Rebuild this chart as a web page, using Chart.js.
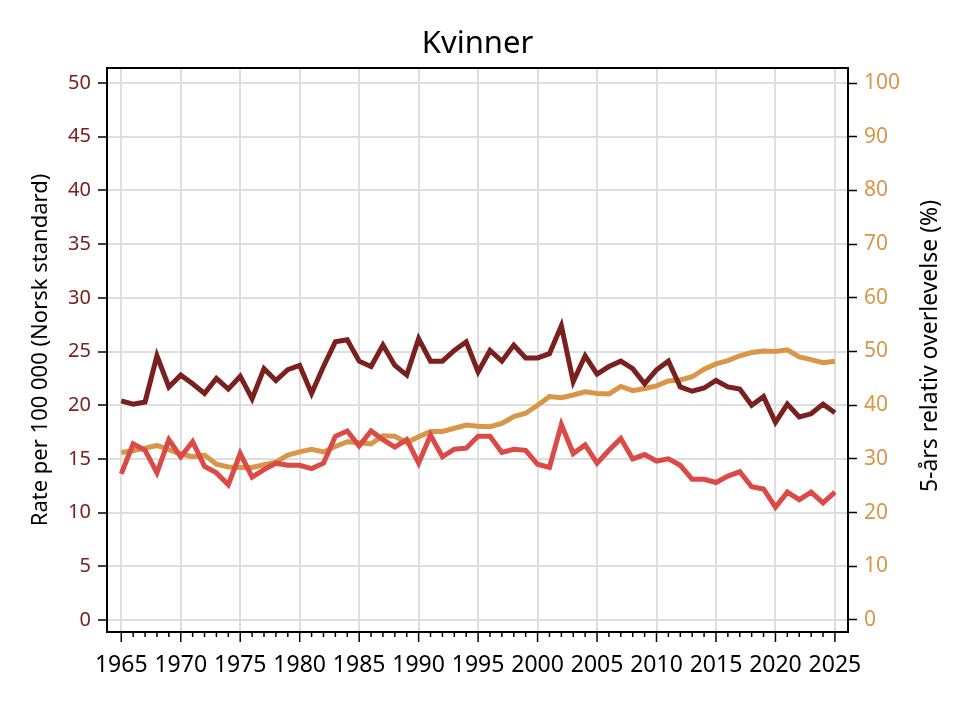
<!DOCTYPE html>
<html>
<head>
<meta charset="utf-8">
<script src="https://cdn.jsdelivr.net/npm/chart.js@4"></script>
<style>
  body { margin: 0; background: #fff; }
  #wrap { width: 970px; height: 706px; }
</style>
</head>
<body>
<div id="wrap"><canvas id="myChart" width="970" height="706"></canvas></div>
<script>
// år
const years = [1965,1966,1967,1968,1969,1970,1971,1972,1973,1974,
  1975,1976,1977,1978,1979,1980,1981,1982,1983,1984,
  1985,1986,1987,1988,1989,1990,1991,1992,1993,1994,
  1995,1996,1997,1998,1999,2000,2001,2002,2003,2004,
  2005,2006,2007,2008,2009,2010,2011,2012,2013,2014,
  2015,2016,2017,2018,2019,2020,2021,2022,2023,2024,2025]

// rate per 100 000 (venstre akse)
const insidens = [20.4,20.1,20.3,24.6,21.7,22.8,22.0,21.1,22.5,21.5,
  22.7,20.6,23.4,22.3,23.3,23.7,21.1,23.6,25.9,26.1,
  24.1,23.6,25.6,23.7,22.8,26.2,24.1,24.1,25.1,25.9,
  23.1,25.1,24.1,25.6,24.4,24.4,24.8,27.4,22.2,24.6,
  22.9,23.6,24.1,23.4,22.0,23.3,24.1,21.7,21.3,21.6,
  22.3,21.7,21.5,20.0,20.8,18.4,20.1,18.9,19.2,20.1,19.3]

const dodelighet = [13.6,16.4,15.8,13.7,16.8,15.2,16.6,14.3,13.7,12.6,
  15.5,13.3,14.0,14.6,14.4,14.4,14.1,14.6,17.1,17.6,
  16.2,17.6,16.8,16.1,16.8,14.6,17.2,15.2,15.9,16.0,
  17.1,17.1,15.6,15.9,15.8,14.5,14.2,18.2,15.5,16.3,
  14.6,15.8,16.9,15.0,15.4,14.8,15.0,14.4,13.1,13.1,
  12.8,13.4,13.8,12.4,12.2,10.5,11.9,11.2,11.9,10.9,11.9]

// 5-års relativ overlevelse (høyre akse)
const overlevelse = [31.2,31.5,32.0,32.5,31.7,30.9,30.4,30.7,29.0,28.5,
  28.4,28.4,28.9,29.4,30.7,31.3,31.8,31.3,32.3,33.2,
  33.0,32.8,34.3,34.2,33.0,34.1,35.1,35.1,35.7,36.3,
  36.1,36.0,36.6,37.9,38.5,40.0,41.6,41.4,41.9,42.5,
  42.2,42.1,43.5,42.7,43.1,43.6,44.5,44.7,45.3,46.7,
  47.7,48.3,49.2,49.8,50.1,50.0,50.3,49.0,48.5,47.9,48.2]

const leftTicks = [0,5,10,15,20,25,30,35,40,45,50]
const rightTicks = [0,10,20,30,40,50,60,70,80,90,100]
const xLabelYears = [1965,1970,1975,1980,1985,1990,1995,2000,2005,2010,2015,2020,2025]

const mørkRød = 'rgb(122,32,30)'
const rød = 'rgb(219,74,70)'
const oransje = 'rgb(217,149,72)'
const grid = '#dedede'

function pts(arr) {
  return years.map((y, i) => ({ x: y, y: arr[i] }))
}

const framePlugin = {
  id: 'frame',
  afterDraw(chart) {
    const ctx = chart.ctx
    const a = chart.chartArea
    const xs = chart.scales.x
    ctx.save()
    ctx.strokeStyle = '#000'
    ctx.lineWidth = 2
    ctx.strokeRect(a.left, a.top, a.right - a.left, a.bottom - a.top)
    // tick marks under x axis, long every 5th year
    ctx.lineWidth = 1.5
    years.forEach(y => {
      const px = xs.getPixelForValue(y)
      const len = y % 5 === 0 ? 10 : 5
      ctx.beginPath()
      ctx.moveTo(px, a.bottom)
      ctx.lineTo(px, a.bottom + len)
      ctx.stroke()
    })
    ctx.fillStyle = '#000'
    ctx.textAlign = 'center'
    ctx.textBaseline = 'middle'
    // title, centred over the plot area
    ctx.font = '31px "Noto Sans"'
    ctx.fillText('Kvinner', (a.left + a.right) / 2, 44)
    // right axis title, rotated the same way as the left one
    ctx.font = '23px "Noto Sans"'
    ctx.translate(930, 346)
    ctx.rotate(-Math.PI / 2)
    ctx.fillText('5-års relativ overlevelse (%)', 0, 0)
    ctx.restore()
  }
}

const yMin = -1.12, yMax = 51.4

var ctx = document.getElementById('myChart').getContext('2d')
var chart = new Chart(ctx, {
  type: 'line',
  data: {
    datasets: [
      { label: 'Insidens', data: pts(insidens), borderColor: mørkRød, yAxisID: 'y', borderWidth: 5, pointRadius: 0, tension: 0 },
      { label: 'Dødelighet', data: pts(dodelighet), borderColor: rød, yAxisID: 'y', borderWidth: 5, pointRadius: 0, tension: 0 },
      { label: 'Overlevelse', data: pts(overlevelse), borderColor: oransje, yAxisID: 'y2', borderWidth: 5, pointRadius: 0, tension: 0 }
    ]
  },
  options: {
    responsive: false,
    animation: false,
    devicePixelRatio: 1,
    layout: { padding: { top: 68 } },
    plugins: {
      legend: { display: false },
      tooltip: { enabled: false },
      title: { display: false }
    },
    scales: {
      x: {
        type: 'linear',
        min: 1963.8,
        max: 2026.1,
        afterBuildTicks: s => { s.ticks = years.map(v => ({ value: v })) },
        grid: {
          color: c => (c.tick && c.tick.value % 5 === 0) ? grid : 'rgba(0,0,0,0)',
          lineWidth: 2,
          drawTicks: false
        },
        border: { display: false },
        ticks: {
          autoSkip: false,
          maxRotation: 0,
          padding: 20,
          color: '#000',
          font: { family: 'Noto Sans', size: 23 },
          callback: v => xLabelYears.includes(v) ? String(v) : ''
        },
        afterFit: s => { s.height = 74 }
      },
      y: {
        position: 'left',
        min: yMin,
        max: yMax,
        afterBuildTicks: s => { s.ticks = leftTicks.map(v => ({ value: v })) },
        grid: { color: grid, lineWidth: 2, tickColor: '#000', tickLength: 9, tickWidth: 1.5 },
        border: { display: false },
        ticks: { color: mørkRød, padding: 7, font: { family: 'Noto Sans', size: 20 } },
        title: {
          display: true,
          text: 'Rate per 100 000 (Norsk standard)',
          color: '#000',
          font: { family: 'Noto Sans', size: 22 },
          padding: { top: 28, bottom: 0 }
        },
        afterFit: s => { s.width = 107 }
      },
      y2: {
        position: 'right',
        min: yMin * 2,
        max: yMax * 2,
        afterBuildTicks: s => { s.ticks = rightTicks.map(v => ({ value: v })) },
        grid: { drawOnChartArea: false, tickColor: '#000', tickLength: 9, tickWidth: 1.5 },
        border: { display: false },
        ticks: { color: oransje, padding: 7, font: { family: 'Noto Sans', size: 21 } },
        afterFit: s => { s.width = 122 }
      }
    }
  },
  plugins: [framePlugin]
})
</script>
</body>
</html>
